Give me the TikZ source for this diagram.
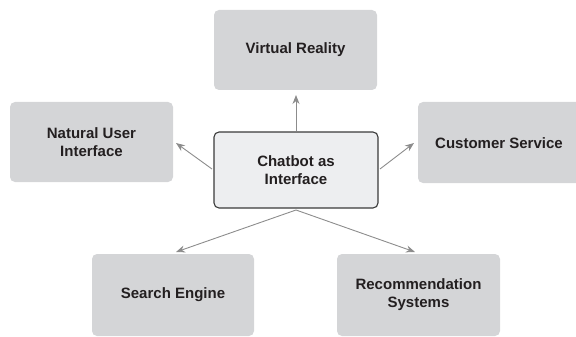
\documentclass[tikz,border=0pt]{standalone}
\usepackage{fontspec}
\setmainfont{Liberation Sans}
\usetikzlibrary{arrows.meta}
\definecolor{boxgray}{HTML}{D4D5D7}
\definecolor{centerfill}{HTML}{EDEEF0}
\definecolor{centerline}{HTML}{3A3A3A}
\definecolor{arrowgray}{HTML}{8C8C8C}
\definecolor{txt}{HTML}{231F20}
\begin{document}
\begin{tikzpicture}[x=1pt,y=-1pt,
  outerbox/.style={fill=boxgray, draw=none, rounded corners=5pt},
  centerbox/.style={fill=centerfill, draw=centerline, line width=1.1pt, rounded corners=5pt},
  lbl/.style={font=\fontsize{15}{18}\selectfont\bfseries, text=txt, align=center},
  conn/.style={draw=arrowgray, line width=0.9pt, -{Stealth[length=9pt,width=7pt]}}]
\useasboundingbox (0,0) rectangle (576,337);
% boxes
\path[outerbox] (214,10) rectangle (377,90);
\path[outerbox] (10,102) rectangle (173,182);
\path[outerbox] (418,102) rectangle (590,183);
\path[outerbox] (92,254) rectangle (254,336);
\path[outerbox] (337,254) rectangle (500,336);
\path[centerbox] (214,132) rectangle (378,208);
% labels
\node[lbl] (vr) at (295.5,50) {Virtual Reality};
\node[lbl] (nui) at (91.5,142) {Natural User\\Interface};
\node[lbl] (cs) at (499,143) {Customer Service};
\node[lbl] (se) at (173,295) {Search Engine};
\node[lbl] (rs) at (418.5,295) {Recommendation\\Systems};
\node[lbl] (cb) at (296,170) {Chatbot as\\Interface};
% connector end points
\coordinate (cT) at (296,131);
\coordinate (cL) at (212,169);
\coordinate (cR) at (380,169);
\coordinate (cB) at (296,210);
\coordinate (vrB) at (296,95);
\coordinate (nuiR) at (176,143);
\coordinate (csL) at (414,143);
\coordinate (seT) at (176,252);
\coordinate (rsT) at (415,252);
\draw[conn] (cT) -- (vrB);
\draw[conn] (cL) -- (nuiR);
\draw[conn] (cR) -- (csL);
\draw[conn] (cB) -- (seT);
\draw[conn] (cB) -- (rsT);
\end{tikzpicture}
\end{document}
